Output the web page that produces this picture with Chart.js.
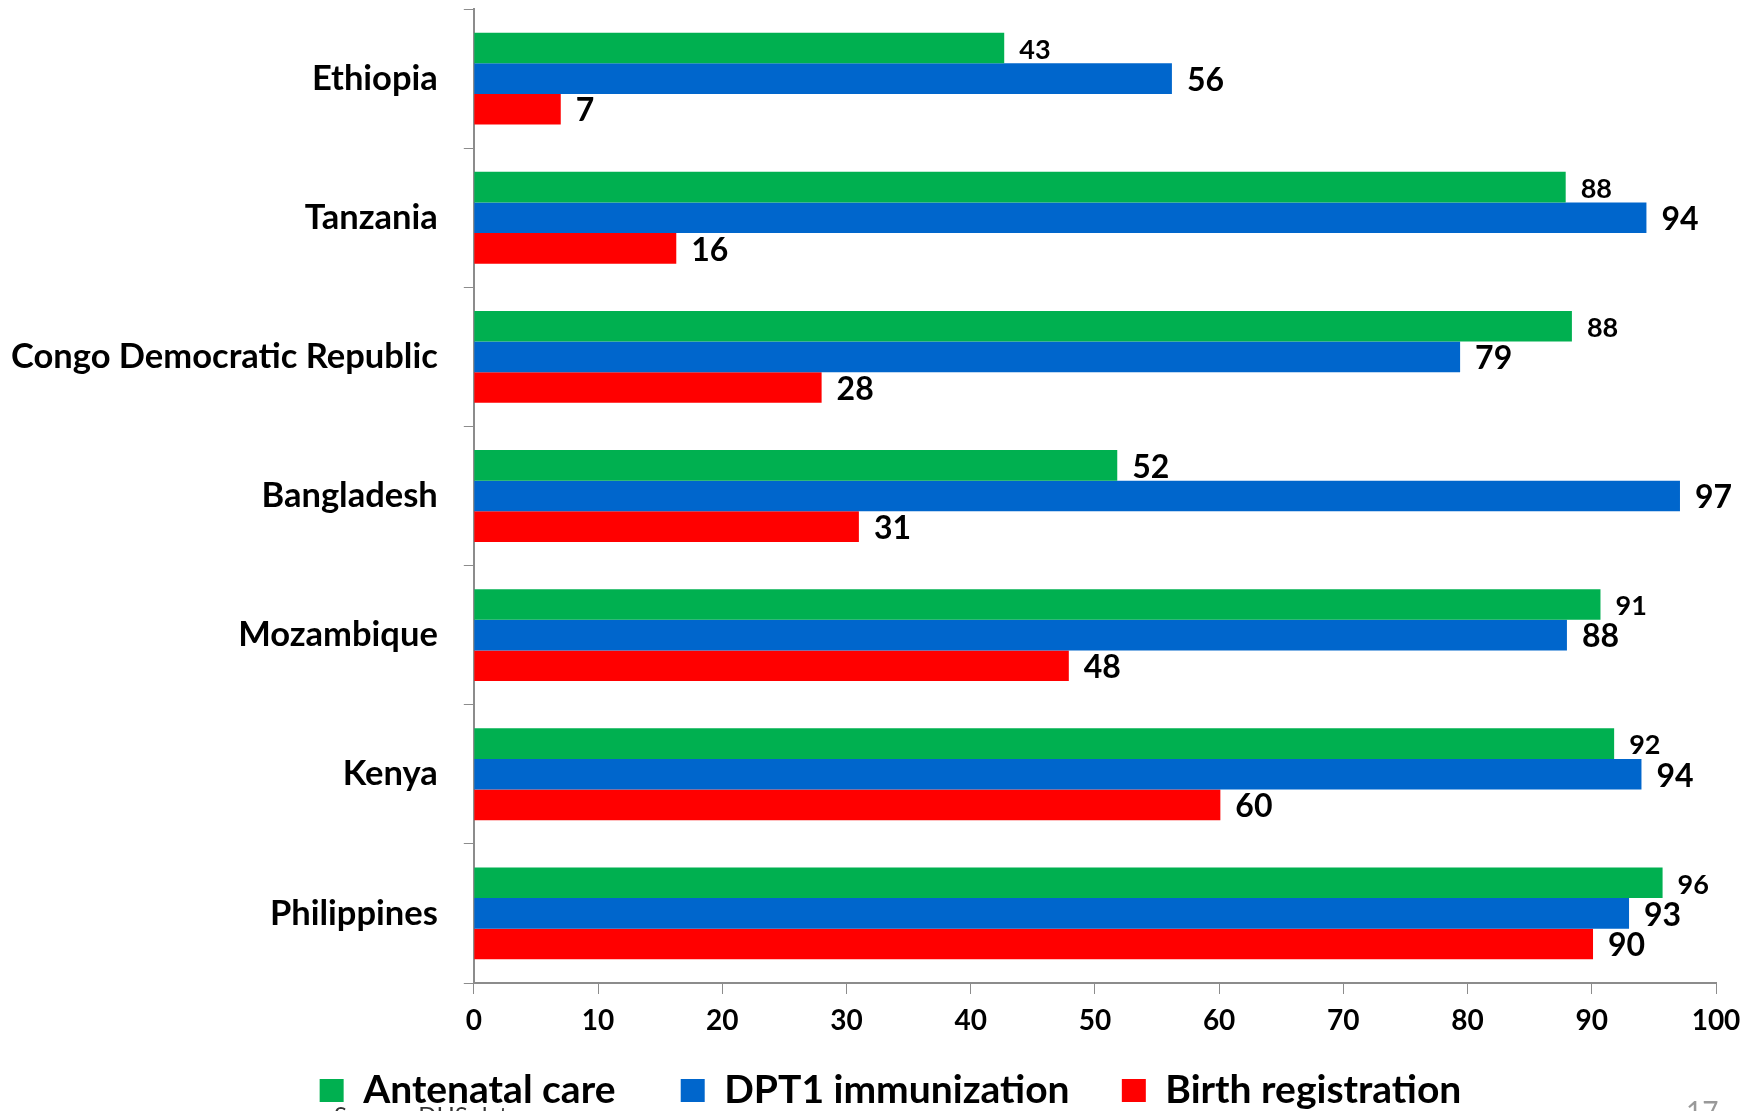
<!DOCTYPE html>
<html>
<head>
<meta charset="utf-8">
<script src="https://cdn.jsdelivr.net/npm/chart.js@4.4.0/dist/chart.umd.min.js"></script>
<style>
  html, body { margin: 0; padding: 0; background: #fff; overflow: hidden; }
  #wrap { position: relative; width: 1758px; height: 1111px; overflow: hidden; }
  #box { position: absolute; left: 0; top: 0; width: 1758px; height: 1120px; }
  .note { position: absolute; font-family: Lato, sans-serif; white-space: nowrap; }
</style>
</head>
<body>
<div id="wrap">
  <div id="box"><canvas id="chart"></canvas></div>
  <div class="note" style="left:334px; top:1100px; font-size:24px; color:#333;">Source: DHS data</div>
  <div class="note" style="left:1686px; top:1094px; font-size:28px; color:#999;">17</div>
</div>
<script>
// pays (de haut en bas)
var countries = ['Ethiopia', 'Tanzania', 'Congo Democratic Republic', 'Bangladesh', 'Mozambique', 'Kenya', 'Philippines'];

// valeurs (%)
var antenatal = [42.7, 87.9, 88.4, 51.8, 90.7, 91.8, 95.7];
var dpt1 = [56.2, 94.4, 79.4, 97.1, 88.0, 94.0, 93.0];
var birthReg = [7.0, 16.3, 28.0, 31.0, 47.9, 60.1, 90.1];

// etiquettes de l'axe X
var xTicks = [0, 10, 20, 30, 40, 50, 60, 70, 80, 90, 100];

// espaces ajoutes apres chaque entree de legende
var legendGaps = ['\u2003\u2004', '\u2003', ''];

// petit plugin pour afficher les valeurs au bout des barres
var valueLabels = {
  id: 'valueLabels',
  afterLayout: function(chart) {
    // legende un peu decalee vers la droite comme sur l'original
    chart.legend.left += 40;
    chart.legend.right += 40;
  },
  afterDatasetsDraw: function(chart) {
    var ctx = chart.ctx;
    ctx.save();
    ctx.fillStyle = '#000';
    ctx.textAlign = 'left';
    ctx.textBaseline = 'middle';
    chart.data.datasets.forEach(function(ds, i) {
      var meta = chart.getDatasetMeta(i);
      meta.data.forEach(function(bar, j) {
        var v = Math.round(ds.data[j]);
        var size = (i === 0 && v !== 52) ? 27 : 32;
        ctx.font = 'bold ' + size + 'px Lato';
        ctx.fillText(v, bar.x + 15, bar.y + 2);
      });
    });
    ctx.restore();
  }
};

var ctx = document.getElementById('chart').getContext('2d');
var chart = new Chart(ctx, {
  type: 'bar',
  data: {
    labels: countries,
    datasets: [{
      label: 'Antenatal care',
      data: antenatal,
      backgroundColor: '#00b050'
    }, {
      label: 'DPT1 immunization',
      data: dpt1,
      backgroundColor: '#0066cc'
    }, {
      label: 'Birth registration',
      data: birthReg,
      backgroundColor: '#ff0000'
    }]
  },
  options: {
    indexAxis: 'y',
    responsive: true,
    maintainAspectRatio: false,
    animation: false,
    categoryPercentage: 0.66,
    barPercentage: 1.0,
    layout: {
      padding: { left: -15, right: 42, top: 9, bottom: 0 }
    },
    scales: {
      x: {
        min: 0,
        max: 100,
        afterBuildTicks: function(axis) {
          axis.ticks = xTicks.map(function(v) { return { value: v }; });
        },
        grid: {
          drawOnChartArea: false,
          tickLength: 11,
          color: '#8c8c8c',
          lineWidth: 1
        },
        border: { color: '#8c8c8c', width: 2 },
        ticks: {
          color: '#000',
          padding: 13,
          maxRotation: 0,
          font: { family: 'Lato', size: 28, weight: 'bold', lineHeight: 1 }
        }
      },
      y: {
        afterFit: function(scale) {
          // pas de marge verticale due au padding des etiquettes
          scale.paddingTop = 0;
          scale.paddingBottom = 0;
        },
        grid: {
          offset: true,
          drawOnChartArea: false,
          tickLength: 10,
          color: '#8c8c8c',
          lineWidth: 1
        },
        border: { color: '#8c8c8c', width: 2 },
        ticks: {
          color: '#000',
          padding: 26,
          font: { family: 'Lato', size: 34.5, weight: 'bold' }
        }
      }
    },
    plugins: {
      legend: {
        position: 'bottom',
        labels: {
          color: '#000',
          boxWidth: 24,
          boxHeight: 23,
          padding: 23,
          font: { family: 'Lato', size: 39, weight: 'bold' },
          generateLabels: function(chart) {
            var items = Chart.defaults.plugins.legend.labels.generateLabels(chart);
            items.forEach(function(it, i) {
              it.text += legendGaps[i];
            });
            return items;
          }
        }
      },
      tooltip: { enabled: false }
    }
  },
  plugins: [valueLabels]
});
</script>
</body>
</html>
